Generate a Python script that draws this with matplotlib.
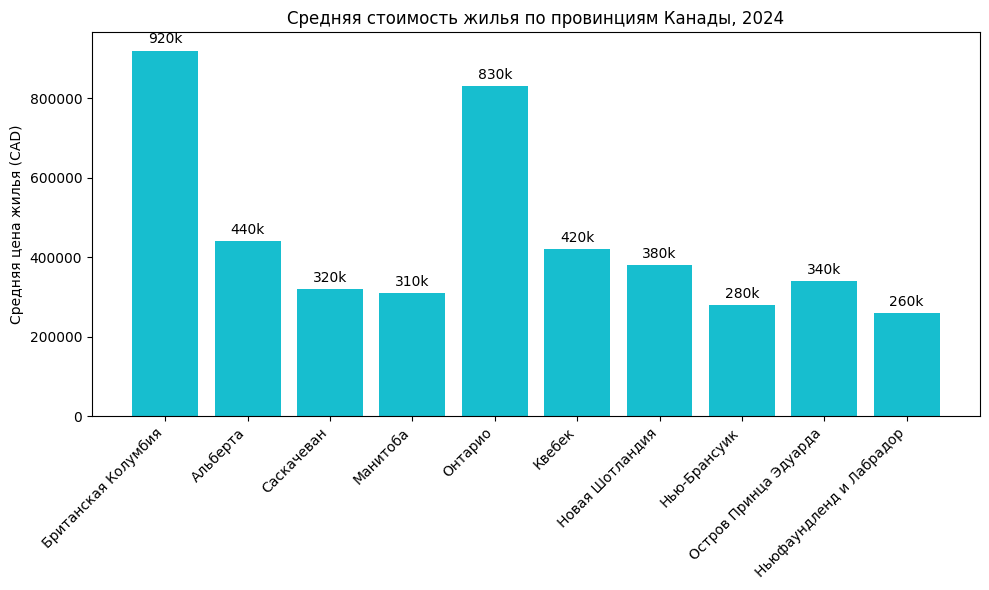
import matplotlib.pyplot as plt

provinces = ["Британская Колумбия", "Альберта", "Саскачеван", "Манитоба", "Онтарио",
             "Квебек", "Новая Шотландия", "Нью-Брансуик", "Остров Принца Эдуарда",
             "Ньюфаундленд и Лабрадор"]
prices = [920000, 440000, 320000, 310000, 830000, 420000, 380000, 280000, 340000, 260000]
price_labels = ["920k", "440k", "320k", "310k", "830k", "420k", "380k", "280k", "340k", "260k"]

fig, ax = plt.subplots(figsize=(10, 6), dpi=100)
bars = ax.bar(provinces, prices, color="#17becf")
ax.bar_label(bars, labels=price_labels, padding=3)

ax.set_title("Средняя стоимость жилья по провинциям Канады, 2024")
ax.set_ylabel("Средняя цена жилья (CAD)")
plt.xticks(rotation=45, ha="right")
plt.tight_layout()
plt.savefig("out.png", bbox_inches="tight")
